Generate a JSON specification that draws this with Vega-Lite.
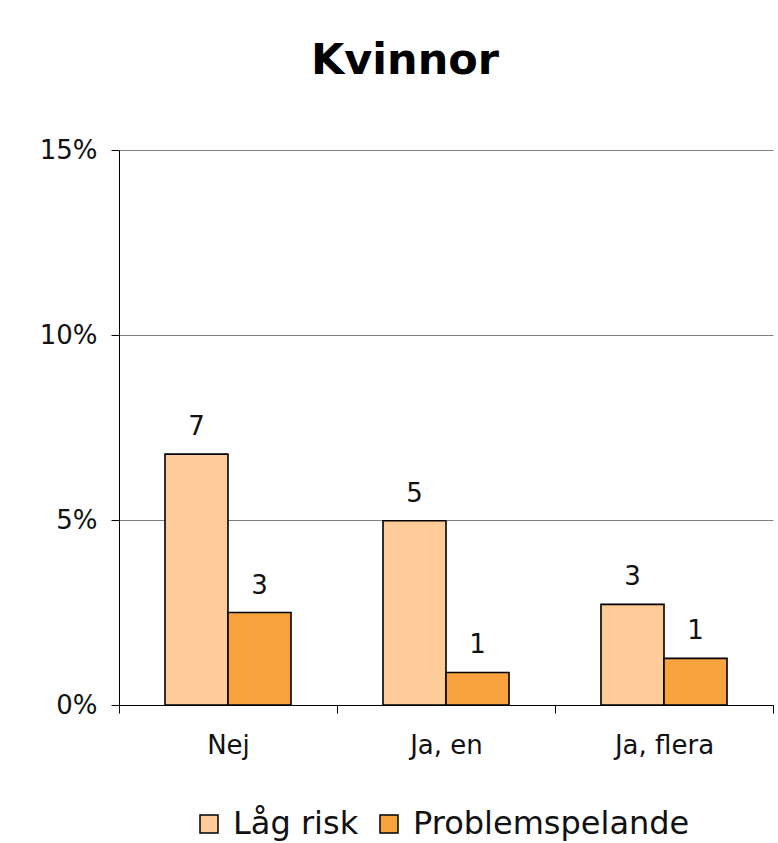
{
  "$schema": "https://vega.github.io/schema/vega-lite/v6.json",
  "autosize": {"type": "none"},
  "width": 654,
  "height": 555,
  "padding": {"left": 119, "top": 150, "right": 5, "bottom": 138},
  "background": "white",
  "title": {
    "text": "Kvinnor",
    "font": "DejaVu Sans",
    "fontSize": 43,
    "fontWeight": "bold",
    "color": "black",
    "anchor": "middle",
    "frame": "group",
    "baseline": "alphabetic",
    "dx": -41,
    "offset": 20
  },
  "data": {
    "values": [
      {"Svar": "Nej", "Grupp": "Låg risk", "Andel": 6.78},
      {"Svar": "Nej", "Grupp": "Problemspelande", "Andel": 2.5},
      {"Svar": "Ja, en", "Grupp": "Låg risk", "Andel": 4.98},
      {"Svar": "Ja, en", "Grupp": "Problemspelande", "Andel": 0.88},
      {"Svar": "Ja, flera", "Grupp": "Låg risk", "Andel": 2.72},
      {"Svar": "Ja, flera", "Grupp": "Problemspelande", "Andel": 1.26}
    ]
  },
  "encoding": {
    "x": {
      "field": "Svar",
      "type": "nominal",
      "sort": ["Nej", "Ja, en", "Ja, flera"],
      "scale": {"paddingInner": 0, "paddingOuter": 0},
      "axis": {
        "title": null,
        "labelAngle": 0,
        "tickBand": "extent",
        "domainColor": "black",
        "tickColor": "black",
        "tickSize": 8,
        "labelFont": "DejaVu Sans",
        "labelFontSize": 26,
        "labelColor": "#111111",
        "labelPadding": 19,
        "grid": false
      }
    },
    "xOffset": {
      "field": "Grupp",
      "type": "nominal",
      "sort": ["Låg risk", "Problemspelande"],
      "scale": {"paddingInner": 0, "paddingOuter": 0.73}
    },
    "y": {
      "field": "Andel",
      "type": "quantitative",
      "scale": {"domain": [0, 15], "nice": false},
      "axis": {
        "title": null,
        "values": [0, 5, 10, 15],
        "labelExpr": "datum.value + '%'",
        "domainColor": "black",
        "tickColor": "black",
        "tickSize": 8,
        "labelFont": "DejaVu Sans",
        "labelFontSize": 26,
        "labelColor": "#111111",
        "labelPadding": 14,
        "grid": true,
        "gridColor": "#808080",
        "gridWidth": 1
      }
    }
  },
  "layer": [
    {
      "mark": {"type": "bar", "stroke": "black", "strokeWidth": 1.6},
      "encoding": {
        "fill": {
          "field": "Grupp",
          "type": "nominal",
          "scale": {"domain": ["Låg risk", "Problemspelande"], "range": ["#FECC98", "#F9A33F"]},
          "legend": {
            "title": null,
            "orient": "none",
            "direction": "horizontal",
            "legendX": 74,
            "legendY": 658,
            "symbolType": "square",
            "symbolSize": 324,
            "symbolStrokeColor": "black",
            "symbolStrokeWidth": 1.5,
            "symbolOpacity": 1,
            "labelFont": "DejaVu Sans",
            "labelFontSize": 32,
            "labelColor": "#111111",
            "labelOffset": 8,
            "columnPadding": 14,
            "labelLimit": 400
          }
        }
      }
    },
    {
      "mark": {"type": "text", "baseline": "alphabetic", "dy": -19, "font": "DejaVu Sans", "fontSize": 26, "color": "#111111"},
      "encoding": {
        "text": {"field": "Andel", "type": "quantitative", "format": ".0f"}
      }
    }
  ],
  "config": {"view": {"stroke": null}}
}
